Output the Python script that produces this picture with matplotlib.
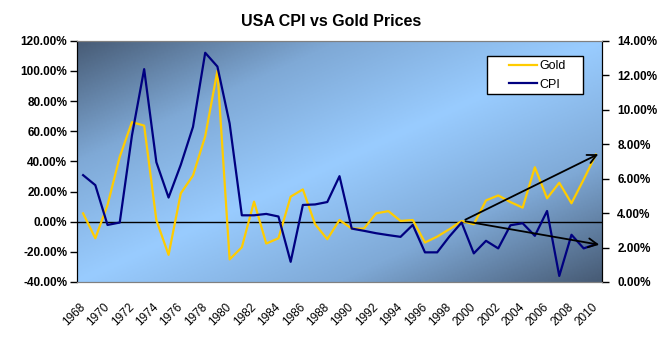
import matplotlib.pyplot as plt
import matplotlib.transforms as mtransforms
from matplotlib.colors import LinearSegmentedColormap
from matplotlib.patches import Rectangle
import numpy as np

plt.rcParams['font.family'] = ['Liberation Sans', 'DejaVu Sans']

years = list(range(1968, 2011))
gold = [5.5, -11, 11, 43, 66, 63.7, 1, -22, 18.8, 30.6, 56.6, 100, -25, -17, 13.3,
        -14.5, -11, 16.6, 21.4, -1.7, -11.6, 1.1, -4.6, -4.6, 5.5, 7, 0.5, 1.1,
        -13.8, -9.9, -5, 0.5, -1.7, 14.1, 17.4, 13, 9.3, 36.1, 15.5, 25.8, 12.2,
        28, 44.5]
cpi = [6.2, 5.62, 3.31, 3.45, 8.5, 12.35, 6.95, 4.9, 6.8, 9.0, 13.3, 12.5, 9.2,
       3.87, 3.87, 3.95, 3.8, 1.17, 4.47, 4.5, 4.64, 6.14, 3.1, 2.97, 2.83, 2.72,
       2.62, 3.31, 1.72, 1.72, 2.64, 3.45, 1.66, 2.39, 1.95, 3.29, 3.41, 2.68,
       4.12, 0.35, 2.74, 1.95, 2.2]
label_years = [str(y) for y in years[::2]]

# trend arrows (category index, gold axis %)
arrow_start = (31.1, 0.5)
arrow_up_end = (42.4, 45.6)
arrow_down_end = (42.5, -15.6)

fig = plt.figure(figsize=(6.62, 3.40), dpi=100)
ax = fig.add_axes([77 / 662, 58 / 340, 525 / 662, 241.3 / 340])

# gradient background
nx, ny = 300, 150
gx, gy = np.meshgrid(np.linspace(0, 1, nx), np.linspace(0, 1, ny))
t = (gx + gy) / 2
cmap = LinearSegmentedColormap.from_list(
    'bg', ['#475b75', '#7fa9d6', '#99ccff', '#7fa9d6', '#475b75'])
ax.imshow(t, cmap=cmap, extent=[0, 1, 0, 1], transform=ax.transAxes,
          aspect='auto', origin='upper', zorder=0, vmin=0, vmax=1)

x = np.arange(len(years))
ln1, = ax.plot(x, gold, color='#FFCC00', lw=1.6, zorder=3, label='Gold')
ax.axhline(0, color='black', lw=1, zorder=2)
ax.set_xlim(-0.5, len(years) - 0.5)
ax.set_ylim(-40, 120)
ax.set_yticks(np.arange(-40, 121, 20))
ax.set_yticklabels([f'{v:.2f}%' for v in np.arange(-40, 121, 20)],
                   fontsize=8.5, fontweight='bold')
ax.tick_params(axis='y', direction='out', length=5, width=1, pad=2)

ax.set_xticks(x[::2])
ax.set_xticklabels(label_years, rotation=45, ha='right', va='top',
                   rotation_mode='anchor', fontsize=8.5)
ax.tick_params(axis='x', length=0, pad=14)
offset = mtransforms.ScaledTranslation(-4 / 100, 0, fig.dpi_scale_trans)
for lab in ax.get_xticklabels():
    lab.set_transform(lab.get_transform() + offset)

ax2 = ax.twinx()
ln2, = ax2.plot(x, cpi, color='#000080', lw=1.6, zorder=3, label='CPI')
ax2.set_ylim(0, 14)
ax2.set_yticks(np.arange(0, 15, 2))
ax2.set_yticklabels([f'{v:.2f}%' for v in np.arange(0, 15, 2)],
                    fontsize=8.5, fontweight='bold')
ax2.tick_params(axis='y', direction='out', length=5, width=1, pad=6)

for a in (ax, ax2):
    a.spines['top'].set_color('#808080')
    a.spines['bottom'].set_color('#808080')
    a.spines['left'].set_color('black')
    a.spines['right'].set_color('black')

for end in (arrow_up_end, arrow_down_end):
    ax2.annotate('', xy=end, xytext=arrow_start,
                 xycoords=ax.transData, textcoords=ax.transData,
                 arrowprops=dict(arrowstyle='->', color='black', lw=1.3,
                                 mutation_scale=16))

# legend box drawn by hand, entries placed inside it
ax2.add_patch(Rectangle((0.781, 0.779), 0.183, 0.158, transform=ax2.transAxes,
                        facecolor='white', edgecolor='black', lw=1, zorder=5))
leg = ax2.legend(handles=[ln1, ln2], loc='upper left',
                 bbox_to_anchor=(0.823, 0.918), borderaxespad=0, borderpad=0,
                 frameon=False, fontsize=9, handlelength=2.2,
                 handletextpad=0.2, labelspacing=0.5)
leg.set_zorder(6)

fig.text(0.5, 0.938, 'USA CPI vs Gold Prices', ha='center', va='center',
         fontsize=11.5, fontweight='bold')

fig.savefig('out.png', dpi=100)
